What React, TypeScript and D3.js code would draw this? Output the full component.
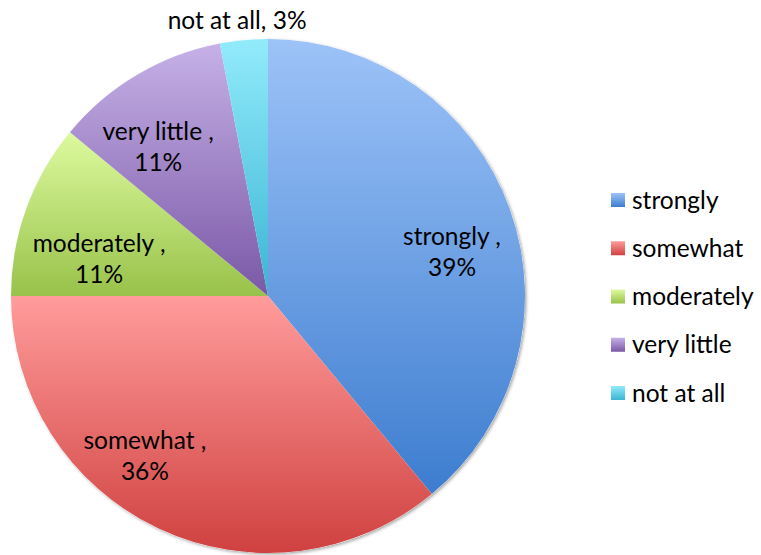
import * as React from "react";
import * as d3 from "d3";

const categories = ["strongly", "somewhat", "moderately", "very little", "not at all"];
const values = [39, 36, 11, 11, 3];
// gradient stops per slice: [top, bottom]
const colorsTop = ["#9DC3F8", "#FF9C9B", "#DDFA9E", "#C6B1E7", "#92EBFB"];
const colorsBottom = ["#3D7DCF", "#CF4140", "#98C24A", "#7A58A6", "#3BB4D4"];
// label anchors, polar: angle (deg, clockwise from top), radius as fraction of pie radius
const labelAngles = [76.6, 217.6, 282.4, 323.6, 353.6];
const labelRadii = [0.736, 0.785, 0.673, 0.72, 1.08];
const labelLines = [
  ["strongly ,", "39%"],
  ["somewhat ,", "36%"],
  ["moderately ,", "11%"],
  ["very little ,", "11%"],
  ["not at all, 3%"],
];

const W = 761;
const H = 555;
const FONT = "Lato, 'Open Sans', sans-serif";
const FS = 24.5;

export default function App() {
  const cx = 268;
  const cy = 296;
  const r = 257;

  const pie = d3
    .pie<number>()
    .sort(null)
    .startAngle(0)
    .endAngle(2 * Math.PI)(values);
  const arc = d3.arc<d3.PieArcDatum<number>>().innerRadius(0).outerRadius(r);

  const legendY = d3.scalePoint<string>().domain(categories).range([200, 393]);

  return (
    <svg
      width={W}
      height={H}
      style={{ position: "absolute", left: 0, top: 0, background: "#fff" }}
    >
      <defs>
        {categories.map((c, i) => (
          <linearGradient key={c} id={`g${i}`} x1="0" y1="0" x2="0" y2="1">
            <stop offset="0" stopColor={colorsTop[i]} />
            <stop offset="1" stopColor={colorsBottom[i]} />
          </linearGradient>
        ))}
        <filter id="shadow" x="-10%" y="-10%" width="120%" height="120%">
          <feDropShadow dx="1.5" dy="1.5" stdDeviation="1.5" floodColor="#000" floodOpacity="0.35" />
        </filter>
      </defs>
      <g transform={`translate(${cx},${cy})`}>
        <circle r={r} fill="#fff" filter="url(#shadow)" />
        {pie.map((d, i) => (
          <path key={i} d={arc(d) || ""} fill={`url(#g${i})`} />
        ))}
        {labelLines.map((lines, i) => {
          const a = (labelAngles[i] * Math.PI) / 180;
          const x = Math.sin(a) * r * labelRadii[i];
          const y = -Math.cos(a) * r * labelRadii[i];
          const lh = 31;
          const y0 = y - ((lines.length - 1) * lh) / 2;
          return (
            <text
              key={i}
              textAnchor="middle"
              fontFamily={FONT}
              fontSize={FS}
              fill="#000"
            >
              {lines.map((t, j) => (
                <tspan key={j} x={x} y={y0 + j * lh} dy="0.35em">
                  {t}
                </tspan>
              ))}
            </text>
          );
        })}
      </g>
      <g>
        {categories.map((c, i) => (
          <g key={c} transform={`translate(611,${legendY(c)})`}>
            <rect x={0} y={-7} width={14} height={14} fill={`url(#g${i})`} />
            <text x={21} dy="0.35em" fontFamily={FONT} fontSize={FS} fill="#000">
              {c}
            </text>
          </g>
        ))}
      </g>
    </svg>
  );
}
